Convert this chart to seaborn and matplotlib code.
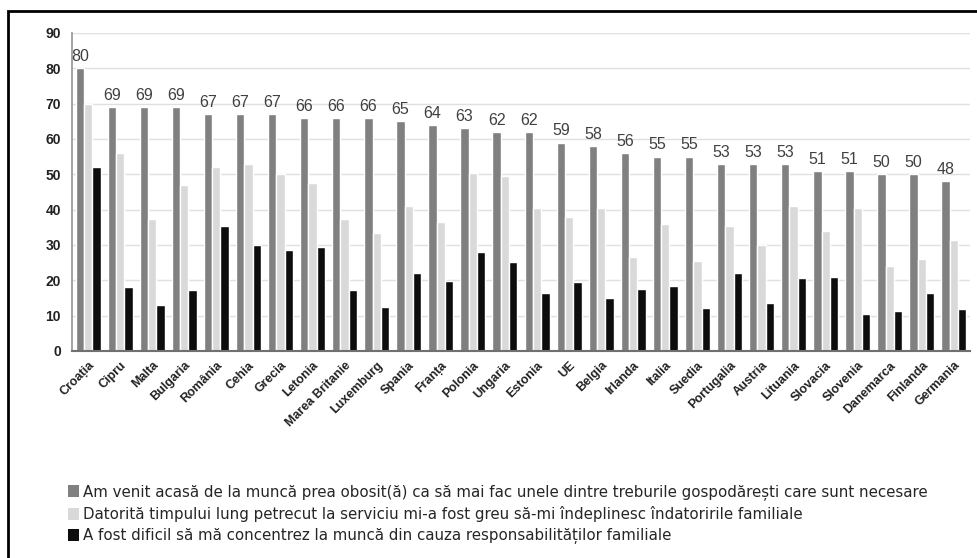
import matplotlib
matplotlib.use("Agg")
import matplotlib.pyplot as plt
import seaborn as sns
import pandas as pd
from matplotlib.patches import Rectangle

countries = ["Croația", "Cipru", "Malta", "Bulgaria", "România", "Cehia", "Grecia", "Letonia",
             "Marea Britanie", "Luxemburg", "Spania", "Franța", "Polonia", "Ungaria", "Estonia",
             "UE", "Belgia", "Irlanda", "Italia", "Suedia", "Portugalia", "Austria", "Lituania",
             "Slovacia", "Slovenia", "Danemarca", "Finlanda", "Germania"]
tired = [80, 69, 69, 69, 67, 67, 67, 66, 66, 66, 65, 64, 63, 62, 62, 59, 58, 56, 55, 55,
         53, 53, 53, 51, 51, 50, 50, 48]
family = [70, 56, 37.5, 47, 52, 53, 50, 47.5, 37.5, 33.5, 41, 36.5, 50.5, 49.5, 40.5, 38, 40.5,
          26.5, 36, 25.5, 35.5, 30, 41, 34, 40.5, 24, 26, 31.5]
concentrate = [52, 18, 13, 17.3, 35.5, 30, 28.5, 29.5, 17.3, 12.5, 22, 19.8, 28, 25.3, 16.5,
               19.5, 15, 17.5, 18.5, 12.3, 22, 13.5, 20.8, 21, 10.5, 11.3, 16.3, 11.8]
series_names = [
    "Am venit acasă de la muncă prea obosit(ă) ca să mai fac unele dintre treburile gospodărești care sunt necesare",
    "Datorită timpului lung petrecut la serviciu mi-a fost greu să-mi îndeplinesc îndatoririle familiale",
    "A fost dificil să mă concentrez la muncă din cauza responsabilităților familiale",
]
yticks = list(range(0, 100, 10))

sns.set_theme(style="white")
plt.rcParams['font.family'] = ['Liberation Sans', 'DejaVu Sans']

rows = []
for i, c in enumerate(countries):
    rows.append((c, series_names[0], tired[i]))
    rows.append((c, series_names[1], family[i]))
    rows.append((c, series_names[2], concentrate[i]))
df = pd.DataFrame(rows, columns=["country", "series", "value"])

fig = plt.figure(figsize=(9.77, 5.58), dpi=100)
ax = fig.add_axes([72/977, 1-351/558, (970-72)/977, (351-33)/558])
palette = ["#808080", "#d9d9d9", "#0d0d0d"]
sns.barplot(data=df, x="country", y="value", hue="series", palette=palette,
            width=0.78, ax=ax, saturation=1, legend=False)

ax.bar_label(ax.containers[0], labels=[str(v) for v in tired], fontsize=11.5,
             color="#404040", padding=3)

ax.set_xlim(-0.5, len(countries) - 0.5)
ax.set_ylim(0, 90)
ax.set_yticks(yticks)
ax.set_yticklabels([str(t) for t in yticks], fontsize=10, fontweight="bold", color="#222222")
ax.yaxis.grid(True, color="#e0e0e0", linewidth=1)
ax.set_axisbelow(True)
ax.set_xlabel("")
ax.set_ylabel("")
ax.set_xticks(range(len(countries)))
ax.set_xticklabels(countries, rotation=45, ha="right", rotation_mode="anchor",
                   fontsize=9, fontweight="bold", color="#222222")
ax.tick_params(axis="x", length=0, pad=6)
ax.tick_params(axis="y", length=3, color="#999999", pad=5)
for s in ["top", "right"]:
    ax.spines[s].set_visible(False)
ax.spines["left"].set_color("#999999")
ax.spines["bottom"].set_color("#707070")
ax.spines["bottom"].set_linewidth(1.5)

handles = [Rectangle((0, 0), 1, 1, facecolor=c, edgecolor="none") for c in palette]
fig.legend(handles, series_names, loc="upper left", bbox_to_anchor=(62/977, 1-478/558),
           frameon=False, prop={"family": "DejaVu Sans", "size": 10.8},
           handlelength=0.7, handleheight=0.9,
           handletextpad=0.3, labelspacing=0.42, borderaxespad=0)

fig.patches.append(Rectangle((8/977, -0.1), 1.2, 1.1 - 11/558, transform=fig.transFigure,
                             fill=False, edgecolor="black", linewidth=2))

fig.savefig("out.png", dpi=100)
